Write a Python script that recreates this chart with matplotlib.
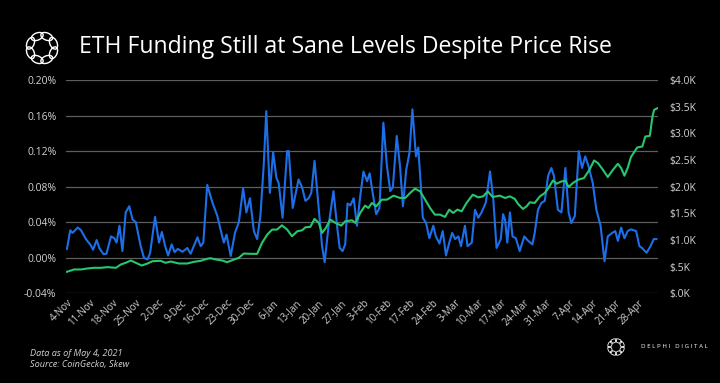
import matplotlib
matplotlib.use('Agg')
import matplotlib.pyplot as plt
from matplotlib.patches import Ellipse
import numpy as np

# ---------------- data ----------------
tick_labels = ['4-Nov', '11-Nov', '18-Nov', '25-Nov', '2-Dec', '9-Dec', '16-Dec', '23-Dec',
               '30-Dec', '6-Jan', '13-Jan', '20-Jan', '27-Jan', '3-Feb', '10-Feb', '17-Feb',
               '24-Feb', '3-Mar', '10-Mar', '17-Mar', '24-Mar', '31-Mar', '7-Apr', '14-Apr',
               '21-Apr', '28-Apr']
tick_days = [7 * i for i in range(len(tick_labels))]

left_ticks = [-0.04, 0.0, 0.04, 0.08, 0.12, 0.16, 0.20]
left_labels = ['-0.04%', '0.00%', '0.04%', '0.08%', '0.12%', '0.16%', '0.20%']
right_ticks = [0, 500, 1000, 1500, 2000, 2500, 3000, 3500, 4000]
right_labels = ['$.0K', '$.5K', '$1.0K', '$1.5K', '$2.0K', '$2.5K', '$3.0K', '$3.5K', '$4.0K']

# ETH funding rate (%), day offset from 4-Nov-2020
funding_day = [0.0, 1.0, 1.7, 3.3, 4.3, 5.8, 7.3, 8.0, 9.1, 9.9, 11.2, 12.1, 13.5, 14.5, 15.2,
               16.1, 17.0, 18.0, 19.1, 20.1, 21.1, 22.6, 23.6, 24.7, 25.5, 27.0, 28.2, 29.1,
               30.1, 31.0, 32.1, 33.0, 34.0, 35.4, 36.9, 37.9, 40.0, 41.0, 41.8, 43.0, 44.6,
               46.1, 47.6, 48.1, 48.9, 50.2, 51.5, 52.7, 54.0, 55.0, 56.1, 57.3, 58.3, 59.3,
               60.3, 61.1, 62.2, 63.2, 64.2, 64.9, 66.1, 67.5, 68.0, 69.2, 71.0, 72.1, 73.1,
               74.1, 74.9, 75.9, 77.2, 78.2, 79.0, 80.2, 81.7, 82.8, 83.6, 84.5, 85.3, 86.0,
               86.9, 87.9, 88.9, 89.9, 90.9, 92.0, 92.8, 93.8, 94.8, 95.8, 97.0, 98.1, 99.1,
               99.9, 101.1, 102.1, 103.0, 104.0, 105.0, 105.9, 107.0, 107.7, 108.5, 109.1,
               110.1, 111.1, 112.3, 113.1, 114.2, 115.2, 116.2, 117.2, 118.1, 119.0, 120.0,
               120.8, 122.0, 122.8, 124.1, 125.1, 126.1, 127.1, 128.4, 129.7, 130.7, 131.7,
               133.0, 133.7, 134.3, 135.0, 135.8, 136.6, 137.6, 138.8, 140.2, 141.4, 142.7,
               143.4, 144.4, 145.5, 146.5, 147.5, 148.5, 149.3, 150.5, 151.6, 152.8, 153.8,
               154.6, 155.7, 156.9, 157.9, 158.9, 159.9, 161.2, 162.3, 163.6, 164.8, 165.8,
               167.2, 168.1, 168.9, 169.9, 170.9, 171.9, 172.9, 174.5, 175.5, 176.3, 177.7,
               178.9, 179.9, 180.7]
funding_pct = [0.010, 0.031, 0.028, 0.034, 0.031, 0.021, 0.014, 0.009, 0.020, 0.011, 0.004,
               0.0045, 0.024, 0.022, 0.017, 0.036, 0.0075, 0.051, 0.058, 0.043, 0.040, 0.013,
               0.000, -0.002, 0.0056, 0.046, 0.017, 0.029, 0.013, 0.0026, 0.015, 0.0063, 0.010,
               0.0067, 0.011, 0.0045, 0.023, 0.013, 0.017, 0.082, 0.062, 0.047, 0.024, 0.017,
               0.026, 0.002, 0.028, 0.040, 0.078, 0.051, 0.067, 0.030, 0.021, 0.047, 0.103,
               0.165, 0.073, 0.119, 0.090, 0.084, 0.045, 0.120, 0.120, 0.056, 0.088, 0.079,
               0.064, 0.067, 0.073, 0.109, 0.054, 0.013, -0.005, 0.036, 0.075, 0.036, 0.011,
               0.0075, 0.015, 0.061, 0.059, 0.067, 0.036, 0.069, 0.097, 0.086, 0.095, 0.071,
               0.049, 0.056, 0.152, 0.103, 0.075, 0.079, 0.137, 0.103, 0.058, 0.099, 0.118,
               0.167, 0.114, 0.124, 0.080, 0.045, 0.039, 0.022, 0.036, 0.024, 0.016, 0.030,
               0.0026, 0.017, 0.028, 0.021, 0.024, 0.013, 0.036, 0.013, 0.017, 0.054, 0.045,
               0.051, 0.062, 0.097, 0.066, 0.011, 0.021, 0.049, 0.043, 0.017, 0.051, 0.024,
               0.022, 0.0075, 0.024, 0.019, 0.015, 0.028, 0.054, 0.062, 0.064, 0.092, 0.101,
               0.092, 0.054, 0.051, 0.101, 0.051, 0.039, 0.047, 0.120, 0.101, 0.114, 0.103,
               0.084, 0.054, 0.036, -0.004, 0.024, 0.028, 0.030, 0.019, 0.034, 0.022, 0.030,
               0.032, 0.030, 0.013, 0.011, 0.0056, 0.013, 0.021, 0.021]

# ETH price (USD)
price_day = [0.0, 2.2, 4.3, 6.3, 8.3, 10.4, 12.4, 15.0, 16.5, 18.0, 19.6, 21.1, 22.9, 24.7,
             26.2, 28.7, 30.2, 31.8, 34.3, 36.9, 38.9, 41.0, 43.0, 44.0, 45.6, 47.6, 49.1,
             50.7, 52.7, 54.2, 56.3, 58.3, 59.8, 61.4, 62.9, 64.4, 65.9, 67.5, 69.0, 70.6,
             72.1, 73.1, 74.6, 75.9, 77.2, 78.2, 79.4, 80.7, 82.3, 84.1, 85.3, 87.4, 88.4,
             89.9, 91.4, 92.4, 93.5, 94.8, 96.5, 98.1, 100.1, 102.1, 103.7, 105.2, 106.7,
             108.3, 109.8, 111.3, 112.8, 114.4, 115.9, 117.2, 118.4, 119.7, 121.0, 122.5,
             124.4, 126.1, 127.6, 129.0, 130.5, 132.7, 134.3, 135.8, 137.3, 138.3, 139.8,
             140.9, 141.9, 143.4, 145.0, 146.5, 147.6, 149.0, 150.1, 151.6, 152.8, 153.8,
             155.1, 156.7, 158.5, 160.2, 161.6, 162.8, 164.3, 165.8, 167.4, 168.9, 169.9,
             170.9, 171.9, 172.9, 174.8, 176.4, 177.3, 178.7, 179.5, 180.0, 181.0]
price_usd = [404, 447, 447, 466, 478, 478, 491, 478, 540, 572, 615, 572, 521, 559, 602, 609,
             572, 596, 559, 559, 590, 609, 647, 658, 634, 615, 583, 621, 666, 746, 740, 740,
             946, 1101, 1195, 1195, 1275, 1195, 1070, 1163, 1182, 1238, 1245, 1395, 1320, 1133,
             1227, 1382, 1320, 1270, 1350, 1369, 1320, 1507, 1644, 1601, 1694, 1631, 1756,
             1756, 1831, 1788, 1788, 1881, 1962, 1911, 1756, 1601, 1475, 1475, 1432, 1569,
             1507, 1569, 1537, 1694, 1849, 1799, 1818, 1911, 1806, 1831, 1788, 1818, 1769,
             1676, 1582, 1631, 1706, 1694, 1818, 1881, 1975, 2117, 2055, 2098, 2111, 1993,
             2068, 2130, 2162, 2317, 2491, 2442, 2317, 2180, 2317, 2429, 2349, 2205, 2349,
             2554, 2734, 2753, 2940, 2953, 3314, 3439, 3471]

# ---------------- figure ----------------
W, H = 720, 383
FONT = 'Open Sans'
TXT = '#d2d2d2'
fig = plt.figure(figsize=(W / 100, H / 100), dpi=100, facecolor='black')

def fx(px):
    return px / W

def fy(py):
    return 1 - py / H

ax = fig.add_axes([fx(66), fy(293.3), fx(658) - fx(66), fy(80) - fy(293.3)])
ax.set_facecolor('black')
ax.plot(funding_day, funding_pct, color='#1c6fe8', lw=1.5, solid_joinstyle='round', zorder=3)
ax.set_xlim(-0.3, 181.2)
ax.set_ylim(-0.04, 0.20)
ax.set_yticks(left_ticks)
ax.set_yticklabels(left_labels, fontfamily=FONT)
ax.set_xticks(tick_days)
ax.set_xticklabels(tick_labels, rotation=45, ha='right', rotation_mode='anchor', fontfamily=FONT)
ax.yaxis.grid(True, color='#5e5e5e', lw=0.9)
ax.set_axisbelow(True)
for s in ax.spines.values():
    s.set_visible(False)
ax.tick_params(axis='y', length=0, colors=TXT, labelsize=7.5, pad=7)
ax.tick_params(axis='x', length=0, colors=TXT, labelsize=7.0, pad=3)

ax2 = ax.twinx()
ax2.plot(price_day, price_usd, color='#27c76e', lw=1.5, solid_joinstyle='round', zorder=3)
ax2.set_ylim(0, 4000)
ax2.set_yticks(right_ticks)
ax2.set_yticklabels(right_labels, fontfamily=FONT)
ax2.tick_params(axis='y', length=0, colors=TXT, labelsize=7.5, pad=8)
for s in ax2.spines.values():
    s.set_visible(False)

# title
fig.text(fx(79), fy(47), 'ETH Funding Still at Sane Levels Despite Price Rise', color='white',
         fontsize=16.6, fontfamily=FONT, va='center', ha='left')

# footer
fig.text(fx(30), fy(353), 'Data as of May 4, 2021', color=TXT, fontsize=6.6, style='italic',
         fontfamily=FONT, va='center')
fig.text(fx(30), fy(364), 'Source: CoinGecko, Skew', color=TXT, fontsize=6.6, style='italic',
         fontfamily=FONT, va='center')
fig.text(fx(641), fy(347), 'D E L P H I   D I G I T A L', color='white', fontsize=4.4,
         fontfamily=FONT, va='center', ha='left')


def logo(cx, cy, size, lw):
    lax = fig.add_axes([fx(cx - size / 2), fy(cy + size / 2), size / W, size / H])
    lax.set_xlim(-1, 1)
    lax.set_ylim(-1, 1)
    lax.axis('off')
    n = 8
    for k in range(n):
        a = 2 * np.pi * k / n + np.pi / 8
        x, y = 0.62 * np.cos(a), 0.62 * np.sin(a)
        lax.add_patch(Ellipse((x, y), 0.62, 0.36, angle=np.degrees(a) + 90,
                              fill=False, ec='white', lw=lw))


logo(42, 48, 40, 1.0)
logo(616, 347, 21, 0.6)

fig.savefig('out.png', dpi=100, facecolor='black')
